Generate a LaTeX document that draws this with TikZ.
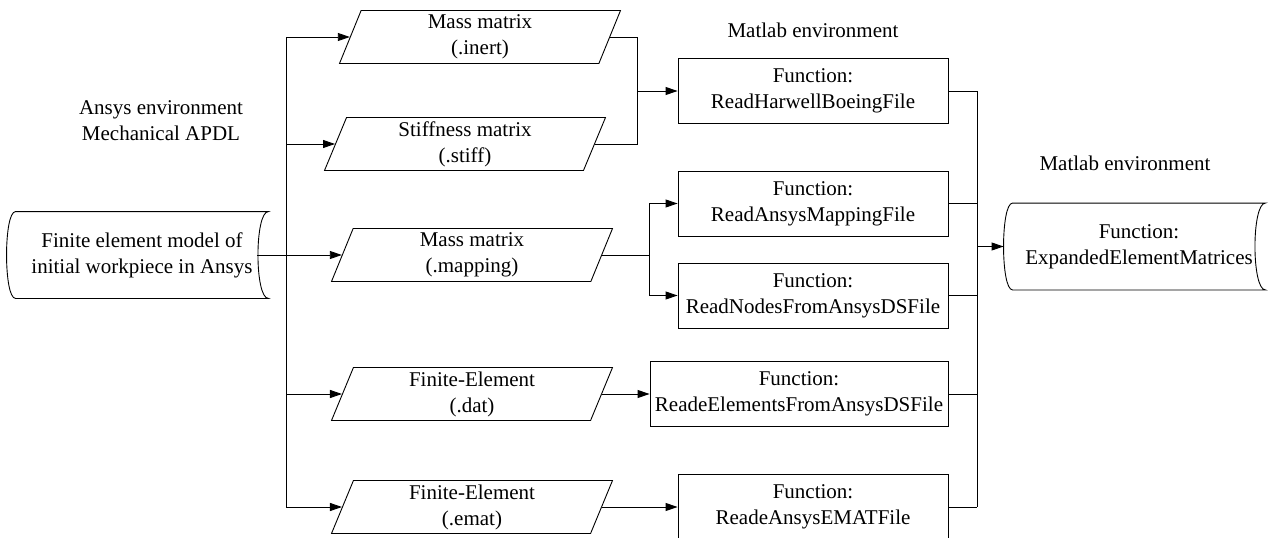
\documentclass[tikz,border=0pt]{standalone}
\usepackage{fontspec}
\setmainfont{Liberation Serif}
\usetikzlibrary{positioning}
\usetikzlibrary{calc}
\usetikzlibrary{shapes.geometric}
\usetikzlibrary{arrows.meta}

\begin{document}
\begin{tikzpicture}[x=1pt, y=-1pt, line width=0.9pt,
  every node/.style={font=\rmfamily\fontsize{21}{26}\selectfont, align=center},
  datafile/.style={draw, trapezium, trapezium left angle=65, trapezium right angle=115,
    trapezium stretches body, minimum width=281pt, minimum height=53pt, inner sep=1pt},
  func/.style={draw, rectangle, minimum width=270pt, minimum height=65pt, inner sep=2pt},
  stored/.style={minimum width=252pt, minimum height=86pt, inner sep=0pt},
  arr/.style={-{Triangle[length=12pt,width=8pt]}}]
\useasboundingbox (0,0) rectangle (1275,538);

\node[stored] (model) at (142,255) {Finite element model of\\initial workpiece in Ansys};
\node (ansys) at (161,120.5) {Ansys environment\\Mechanical APDL};

\node[datafile] (inert) at (480,37) {Mass matrix\\(.inert)};
\node[datafile] (stiff) at (465,144) {Stiffness matrix\\(.stiff)};
\node[datafile] (mapping) at (472,255) {Mass matrix\\(.mapping)};
\node[datafile] (dat) at (472,394) {Finite-Element\\(.dat)};
\node[datafile] (emat) at (472,507) {Finite-Element\\(.emat)};

\node (matlab1) at (813,30) {Matlab environment};
\node[func] (harwell) at (813,91) {Function:\\ReadHarwellBoeingFile};
\node[func] (readmap) at (813,203.5) {Function:\\ReadAnsysMappingFile};
\node[func] (readnodes) at (813,295.5) {Function:\\ReadNodesFromAnsysDSFile};
\node[func, minimum width=298pt] (readelem) at (799,394) {Function:\\ReadeElementsFromAnsysDSFile};
\node[func] (reademat) at (813,507) {Function:\\ReadeAnsysEMATFile};

\node (matlab2) at (1125,163) {Matlab environment};
\node[stored] (expand) at (1139,246.5) {Function:\\ExpandedElementMatrices};

\foreach \n in {model,expand}
  \draw (\n.north west) .. controls ([xshift=-12pt]\n.north west) and ([xshift=-12pt]\n.south west) .. (\n.south west)
    -- (\n.south east) .. controls ([xshift=-14pt]\n.south east) and ([xshift=-14pt]\n.north east) .. (\n.north east) -- cycle;

\coordinate (trunk) at (286,0);
\coordinate (join) at (637,0);
\coordinate (fork) at (649,0);
\coordinate (collect) at (977,0);

\draw ([xshift=-11pt]model.east) -- (trunk |- model.east);
\draw (trunk |- inert.left side) -- (trunk |- emat.left side);
\foreach \n in {inert,stiff,mapping,dat,emat}
  \draw[arr] (trunk |- \n.left side) -- (\n.left side);

\draw (inert.right side) -| (join |- stiff.right side) -- (stiff.right side);
\draw[arr] (join |- harwell.west) -- (harwell.west);
\draw (mapping.right side) -- (fork |- mapping.right side);
\draw[arr] (fork |- mapping.right side) |- (readmap.west);
\draw[arr] (fork |- mapping.right side) |- (readnodes.west);
\draw[arr] (dat.right side) -- (readelem.west);
\draw[arr] (emat.right side) -- (reademat.west);

\foreach \n in {harwell,readmap,readnodes,readelem,reademat}
  \draw (\n.east) -- (collect |- \n.east);
\draw (collect |- harwell.east) -- (collect |- reademat.east);
\draw[arr] (collect |- expand.west) -- ([xshift=-9pt]expand.west);
\end{tikzpicture}
\end{document}
